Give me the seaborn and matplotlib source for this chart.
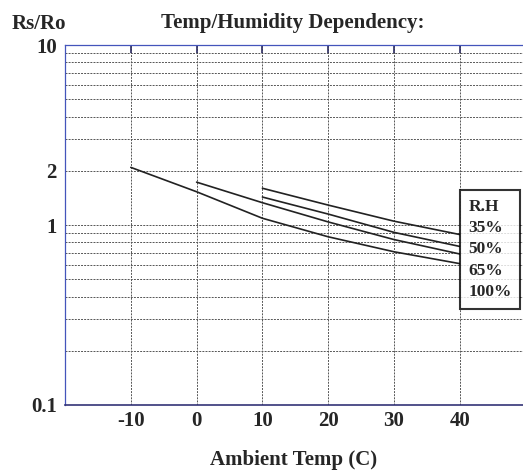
import matplotlib
matplotlib.use("Agg")
import matplotlib.pyplot as plt
import seaborn as sns
import pandas as pd
from matplotlib.ticker import LogLocator, NullFormatter

# ---- data (Rs/Ro vs ambient temp, per relative humidity) ----
rh_labels = ['35%', '50%', '65%', '100%']

temp_35 = [10, 20, 30, 40]
rsro_35 = [1.60, 1.29, 1.05, 0.885]

temp_50 = [10, 20, 30, 40]
rsro_50 = [1.43, 1.15, 0.91, 0.76]

temp_65 = [0, 10, 20, 30, 40]
rsro_65 = [1.73, 1.33, 1.04, 0.83, 0.69]

temp_100 = [-10, 0, 10, 20, 30, 40]
rsro_100 = [2.09, 1.53, 1.09, 0.86, 0.71, 0.61]

x_ticks = [-10, 0, 10, 20, 30, 40]
y_ticks = [0.1, 1, 2, 10]
y_tick_labels = ['0.1', '1', '2', '10']

frames = []
for lab, t, r in zip(rh_labels,
                     [temp_35, temp_50, temp_65, temp_100],
                     [rsro_35, rsro_50, rsro_65, rsro_100]):
    frames.append(pd.DataFrame({'temp': t, 'rsro': r, 'RH': lab}))
df = pd.concat(frames, ignore_index=True)

sns.set_theme(style='white')
plt.rcParams['font.family'] = ['Liberation Serif', 'DejaVu Serif']
plt.rcParams['font.weight'] = 'bold'

W, H = 523, 472
fig = plt.figure(figsize=(W / 100, H / 100), dpi=100)
fig.patch.set_facecolor('white')
ax = fig.add_axes([65 / W, 67 / H, 458 / W, 360 / H])

sns.lineplot(data=df, x='temp', y='rsro', hue='RH', hue_order=rh_labels,
             palette=['#222222'] * 4, linewidth=1.2, estimator=None,
             ax=ax, legend=True)

ax.set_yscale('log')
ax.set_ylim(0.1, 10)
ax.set_xlim(-20, 49.6)

ax.set_xticks(x_ticks)
ax.set_xticklabels([str(v) for v in x_ticks])
ax.set_yticks(y_ticks)
ax.set_yticklabels(y_tick_labels)
ax.yaxis.set_minor_locator(LogLocator(base=10, subs=range(2, 10)))
ax.yaxis.set_minor_formatter(NullFormatter())

# dotted grid like the datasheet
grid_kw = dict(color='#555555', linestyle=(0, (2, 1.2)), linewidth=0.7)
ax.grid(which='both', axis='y', **grid_kw)
ax.grid(which='major', axis='x', **grid_kw)

ax.tick_params(axis='x', direction='in', length=6, top=True, color='#333366',
               pad=4, labelsize=15)
ax.tick_params(axis='y', which='major', direction='in', length=11,
               color='#4455bb', pad=6, labelsize=15)
ax.tick_params(axis='y', which='minor', length=0)
# only the tick at 1 is drawn on the left edge
ax.yaxis.get_major_ticks()[2].tick1line.set_visible(False)

for side in ['left', 'top']:
    ax.spines[side].set_color('#4455bb')
    ax.spines[side].set_linewidth(0.9)
ax.spines['bottom'].set_color('#333377')
ax.spines['bottom'].set_linewidth(1.2)
ax.spines['right'].set_visible(False)

ax.set_xlabel('Ambient Temp (C)', fontsize=15, fontweight='bold', labelpad=14)
ax.set_ylabel('')

fig.text(293 / W, 1 - 23 / H, 'Temp/Humidity Dependency:', ha='center',
         va='center', fontsize=15, fontweight='bold')
fig.text(12 / W, 1 - 24 / H, 'Rs/Ro', ha='left', va='center',
         fontsize=15, fontweight='bold')

leg = ax.legend(title='R.H', loc='upper left', bbox_to_anchor=(0.8615, 0.597),
                handlelength=0, handletextpad=0, frameon=True, fancybox=False,
                edgecolor='black', fontsize=12.5, borderpad=0.5,
                labelspacing=0.3, borderaxespad=0,
                title_fontproperties={'weight': 'bold', 'size': 12.5})
for h in leg.legend_handles:
    h.set_visible(False)
leg._legend_box.align = 'left'
leg.get_frame().set_linewidth(1.5)

fig.savefig('out.png', dpi=100)
